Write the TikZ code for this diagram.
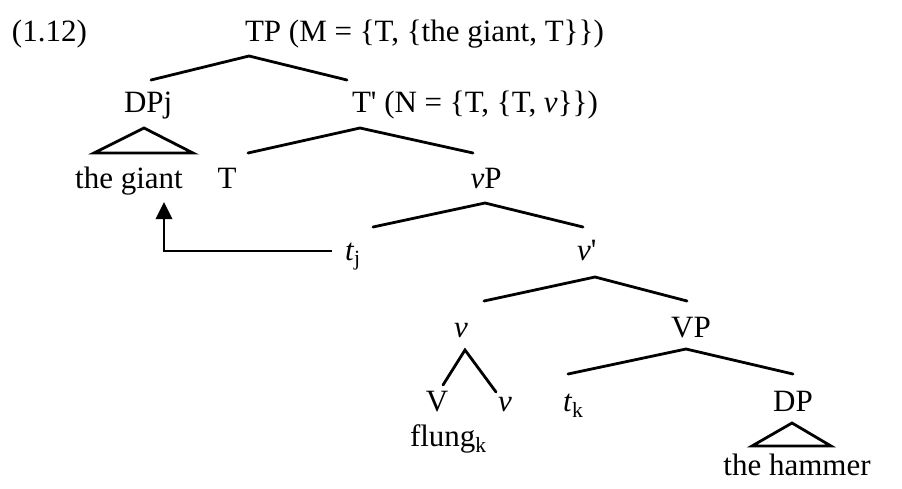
\documentclass[tikz,border=0pt]{standalone}
\usepackage{fontspec}
\setmainfont{Liberation Serif}
\usetikzlibrary{arrows.meta}
\begin{document}
\begin{tikzpicture}[x=1pt,y=-1pt,
  lab/.style={inner sep=0pt,outer sep=0pt,font=\fontsize{31}{37}\selectfont},
  br/.style={line width=2.8pt,line cap=round,line join=miter},
  mv/.style={line width=2.8pt,-{Triangle[length=17pt,width=16pt]}}]
\useasboundingbox (0,0) rectangle (902,488);
% labels
\node[lab,anchor=base west] (ex) at (12,41) {(1.12)};
\node[lab,anchor=base west] (TP) at (245,41) {TP (M = \{T, \{the giant, T\}\})};
\node[lab,anchor=base west] (DPj) at (124,112) {DPj};
\node[lab,anchor=base west] (Tb) at (352,112) {T\textquotesingle{} (N = \{T, \{T, \textit{v}\}\})};
\node[lab,anchor=base] (giant) at (129,188) {the giant};
\node[lab,anchor=base] (T) at (227,188) {T};
\node[lab,anchor=base] (vP) at (486,188) {\textit{v}P};
\node[lab,anchor=base west] (tj) at (345,260) {\textit{t}\textsubscript{j}};
\node[lab,anchor=base west] (vb) at (577,260) {\textit{v}\textquotesingle};
\node[lab,anchor=base] (v) at (461,337) {\textit{v}};
\node[lab,anchor=base] (VP) at (691,337) {VP};
\node[lab,anchor=base] (V) at (437,411) {V};
\node[lab,anchor=base] (v2) at (505,411) {\textit{v}};
\node[lab,anchor=base west] (tk) at (563,411) {\textit{t}\textsubscript{k}};
\node[lab,anchor=base] (DP) at (793,411) {DP};
\node[lab,anchor=base west] (flung) at (410,446) {flung\textsubscript{k}};
\node[lab,anchor=base] (hammer) at (797,475) {the hammer};
% branch points
\coordinate (TPa) at (249,56);
\coordinate (DPjt) at (151,80);
\coordinate (Tbt) at (347,80);
\coordinate (DPja) at (144,128);
\coordinate (Tba) at (360,128);
\coordinate (Tt) at (248,153);
\coordinate (vPt) at (473,153);
\coordinate (vPa) at (485,203);
\coordinate (tjt) at (373,227);
\coordinate (vbt) at (583,227);
\coordinate (vba) at (595,277);
\coordinate (vt) at (484,301);
\coordinate (VPt) at (687,301);
\coordinate (va) at (465,350);
\coordinate (Vt) at (443,385);
\coordinate (v2t) at (496,392);
\coordinate (VPa) at (686,349);
\coordinate (tkt) at (568,374);
\coordinate (DPt) at (793,374);
\coordinate (DPa) at (792,423);
\coordinate (tjl) at (332,251);
\coordinate (corner) at (164,251);
\coordinate (tip) at (164,202);
% branches
\draw[br] (DPjt) -- (TPa) -- (Tbt);
\draw[br] (94,153) -- (DPja) -- (193,153) -- cycle;
\draw[br] (Tt) -- (Tba) -- (vPt);
\draw[br] (tjt) -- (vPa) -- (vbt);
\draw[br] (vt) -- (vba) -- (VPt);
\draw[br] (Vt) -- (va) -- (v2t);
\draw[br] (tkt) -- (VPa) -- (DPt);
\draw[br] (752,446) -- (DPa) -- (831,446) -- cycle;
% movement arrow
\draw[mv] (tjl) -- (corner) -- (tip);
\end{tikzpicture}
\end{document}
